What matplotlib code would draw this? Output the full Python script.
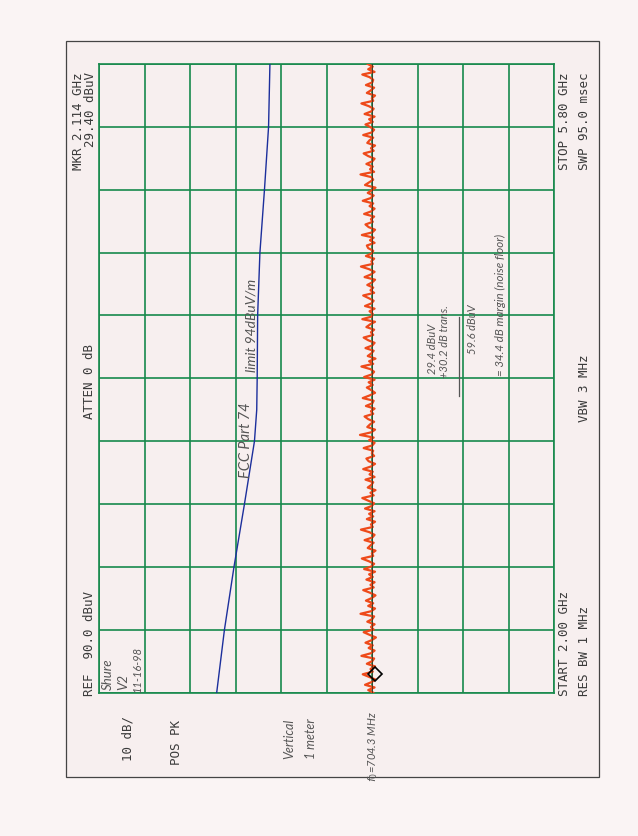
import numpy as np
import matplotlib
matplotlib.use("Agg")
import matplotlib.pyplot as plt
from matplotlib.patches import Rectangle

# === Analyzer settings ===
ref_level = 90.0          # dBuV, left edge of screen
db_per_div = 10.0
start_ghz = 2.00
stop_ghz = 5.80
marker_ghz = 2.114
marker_dbuv = 29.40

# === FCC Part 74 limit line (hand drawn blue curve) ===
limit_ghz = [2.00, 2.38, 2.76, 3.14, 3.33, 3.52, 3.71, 3.90, 4.28, 4.66, 5.04, 5.42, 5.80]
limit_dbuv = [64.2, 62.5, 60.4, 58.1, 57.0, 55.9, 55.4, 55.3, 55.2, 54.7, 53.7, 52.8, 52.5]

# === Noise floor trace, dBuV, bottom (start) to top (stop) ===
noise_dbuv = [
    29.8, 30.9, 29.5, 31.6, 30.2, 29.3, 30.7, 32.1, 29.9, 30.4,
    29.4, 31.2, 30.0, 29.6, 32.4, 30.3, 29.5, 30.8, 29.9, 31.5,
    30.1, 29.2, 30.6, 31.9, 29.7, 30.3, 29.5, 31.1, 30.0, 29.6,
    32.6, 30.2, 29.4, 30.9, 29.8, 31.4, 30.1, 29.3, 30.5, 32.0,
    29.7, 30.4, 29.5, 31.3, 29.9, 30.7, 29.4, 31.8, 30.2, 29.6,
    30.8, 32.3, 29.8, 30.1, 29.3, 31.0, 30.4, 29.7, 31.7, 30.0,
    29.5, 30.6, 32.5, 29.9, 30.3, 29.4, 31.2, 29.8, 30.7, 29.5,
    31.6, 30.1, 29.6, 30.9, 32.2, 29.7, 30.4, 29.3, 31.0, 30.2,
    29.8, 31.5, 29.5, 30.6, 29.9, 32.0, 30.3, 29.4, 30.8, 31.3,
    29.6, 30.1, 29.8, 31.9, 30.0, 29.5, 30.7, 29.7, 32.7, 30.2,
    29.4, 31.1, 30.5, 29.6, 30.9, 31.7, 29.8, 30.3, 29.5, 31.4,
    30.0, 29.7, 32.1, 30.6, 29.4, 30.2, 31.2, 29.9, 30.8, 29.5,
    31.8, 30.1, 29.6, 30.4, 32.4, 29.8, 30.7, 29.3, 31.0, 30.2,
    29.7, 31.5, 30.0, 29.5, 30.9, 31.9, 29.8, 30.3, 29.6, 31.3,
    30.5, 29.4, 32.2, 30.1, 29.9, 30.6, 29.5, 31.6, 30.2, 29.7,
    30.8, 32.0, 29.6, 30.4, 29.8, 31.1, 30.0, 29.4, 31.7, 30.3,
    29.5, 30.7, 32.5, 29.9, 30.2, 29.6, 31.4, 30.1, 29.8, 30.9,
    31.2, 29.5, 30.5, 29.7, 32.3, 30.0, 29.4, 30.8, 31.5, 29.9,
    30.3, 29.6, 31.8, 30.2, 29.5, 30.6, 29.8, 32.1, 30.4, 29.7,
    31.0, 30.1, 29.3, 31.6, 30.7, 29.8, 30.2, 32.6, 29.6, 30.5,
    29.9, 31.3, 30.0, 29.5, 30.9, 31.9, 29.7, 30.3, 29.4, 31.1,
    30.6, 29.8, 32.0, 30.1, 29.6, 30.4, 31.5, 29.9, 30.7, 29.5,
    31.7, 30.2, 29.7, 30.8, 32.4, 29.8, 30.1, 29.4, 31.2, 30.3,
    29.6, 31.4, 30.0, 29.8, 30.6, 32.2, 29.5, 30.9, 29.9, 31.0,
]
noise_ghz = np.linspace(start_ghz, stop_ghz, len(noise_dbuv))

W, H = 638, 837
paper = "#faf4f4"
grid_green = "#17894c"
plotter_ink = "#3a3a3a"
pencil = "#555555"

fig = plt.figure(figsize=(W / 100, H / 100), dpi=100, facecolor=paper)


def fx(x):
    return x / W


def fy(y):
    return 1 - y / H


# outer printout frame (kept behind the graticule)
fig.patches.append(Rectangle((fx(66), fy(778)), fx(599) - fx(66), fy(42) - fy(778),
                             transform=fig.transFigure, facecolor="#f7efef",
                             edgecolor="#444444", lw=0.9, zorder=-5))

# plot area = the graticule
ax = fig.add_axes([fx(99.3), fy(693.7), fx(554.3) - fx(99.3), fy(65) - fy(693.7)])
ax.set_zorder(2)
ax.set_facecolor("#f7efef")
ax.set_xlim(ref_level, ref_level - 10 * db_per_div)
ax.set_ylim(start_ghz, stop_ghz)
ax.set_xticks(np.arange(ref_level, ref_level - 10 * db_per_div - 1, -db_per_div))
ax.set_yticks(np.linspace(start_ghz, stop_ghz, 11))
ax.grid(True, color=grid_green, lw=1.2)
ax.tick_params(length=0, labelbottom=False, labelleft=False)
for s in ax.spines.values():
    s.set_color(grid_green)
    s.set_linewidth(1.2)

# limit line and noise trace
ax.plot(limit_dbuv, limit_ghz, color="#1c2f9c", lw=1.0, zorder=3)
ax.plot(noise_dbuv, noise_ghz, color="#ee4a1a", lw=1.6, zorder=4)
ax.axvline(30, color="#2b2a1c", lw=0.6, alpha=0.8, zorder=5)
ax.plot([marker_dbuv], [marker_ghz], marker="D", ms=7, mfc="none", mec="black",
        mew=1.2, zorder=6)

# === plotter annotations (rotated) ===
mono = dict(family="DejaVu Sans Mono", fontsize=9, color=plotter_ink, rotation=90,
            zorder=10)
fig.text(fx(79), fy(72), "MKR 2.114 GHz", ha="center", va="top", **mono)
fig.text(fx(91), fy(72), "29.40 dBuV", ha="center", va="top", **mono)
fig.text(fx(90), fy(382), "ATTEN 0 dB", ha="center", va="center", **mono)
fig.text(fx(90), fy(696), "REF  90.0 dBuV", ha="center", va="bottom", **mono)
fig.text(fx(565), fy(72), "STOP 5.80 GHz", ha="center", va="top", **mono)
fig.text(fx(585), fy(72), "SWP 95.0 msec", ha="center", va="top", **mono)
fig.text(fx(584), fy(388), "VBW 3 MHz", ha="center", va="center", **mono)
fig.text(fx(565), fy(696), "START 2.00 GHz", ha="center", va="bottom", **mono)
fig.text(fx(585), fy(696), "RES BW 1 MHz", ha="center", va="bottom", **mono)
fig.text(fx(128), fy(739), "10 dB/", ha="center", va="center", **mono)
fig.text(fx(176), fy(743), "POS PK", ha="center", va="center", **mono)

# === handwritten notes ===
hand = dict(family=["Lato", "DejaVu Sans"], style="italic", weight="normal",
            color=pencil, rotation=90, zorder=10)
fig.text(fx(108), fy(690), "Shure", ha="center", va="bottom", fontsize=9.5, **hand)
fig.text(fx(123), fy(690), "V2", ha="center", va="bottom", fontsize=9.5, **hand)
fig.text(fx(137), fy(692), "11-16-98", ha="center", va="bottom", fontsize=8, **hand)
fig.text(fx(246), fy(478), "FCC Part 74", ha="center", va="bottom", fontsize=10.5, **hand)
fig.text(fx(251), fy(372), "limit 94dBuV/m", ha="center", va="bottom", fontsize=10, **hand)
fig.text(fx(433), fy(374), "29.4 dBuV", ha="center", va="bottom", fontsize=8, **hand)
fig.text(fx(444), fy(378), "+30.2 dB trans.", ha="center", va="bottom", fontsize=8, **hand)
fig.add_artist(plt.Line2D([fx(459), fx(459)], [fy(397), fy(318)], color=pencil, lw=0.9,
                          zorder=10))
fig.text(fx(472), fy(354), "59.6 dBuV", ha="center", va="bottom", fontsize=8, **hand)
fig.text(fx(500), fy(376), "= 34.4 dB margin (noise floor)", ha="center", va="bottom",
         fontsize=8.3, **hand)
fig.text(fx(289), fy(759), "Vertical", ha="center", va="bottom", fontsize=9, **hand)
fig.text(fx(311), fy(759), "1 meter", ha="center", va="bottom", fontsize=9, **hand)
fig.text(fx(373), fy(782), r"$f_0$=704.3 MHz", ha="center", va="bottom", fontsize=8, **hand)

fig.savefig("out.png", dpi=100, facecolor=paper)
